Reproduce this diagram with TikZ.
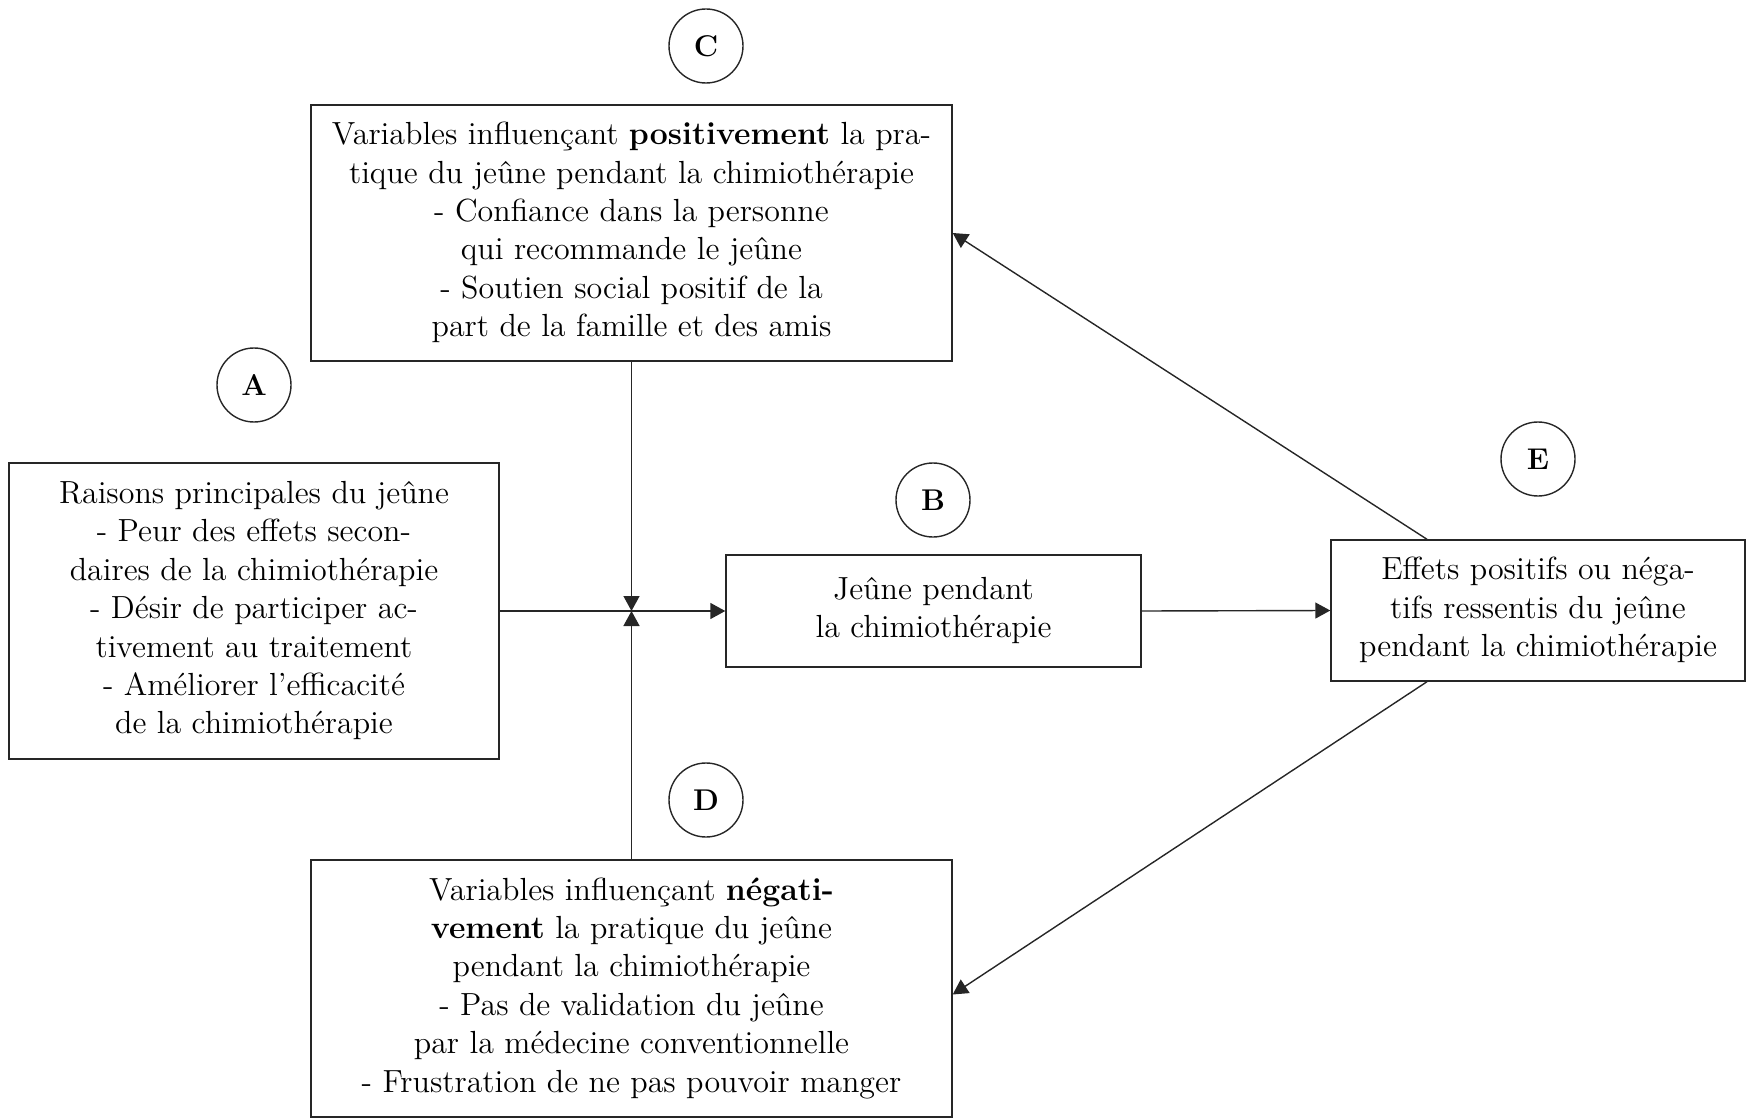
\documentclass[tikz,border=0pt]{standalone}
\usetikzlibrary{arrows.meta,calc}
\newcommand{\boxtext}[1]{\scalebox{1.3333}{\fontsize{12}{14.4}\selectfont\begin{tabular}{@{}c@{}}#1\end{tabular}}}
\begin{document}
\begin{tikzpicture}[x=0.5pt,y=-0.5pt,
  box/.style={draw=black!85,line width=0.7pt,align=center,inner sep=0pt},
  lbl/.style={draw=black!85,line width=0.7pt,circle,minimum size=37pt,inner sep=0pt,font=\fontsize{15}{18}\selectfont\bfseries},
  conn/.style={draw=black!85,line width=0.7pt,-{Triangle[length=7.5pt,width=8pt]}}]
\useasboundingbox (0,0) rectangle (1746,1118);
\node[box,minimum width=320.5pt,minimum height=128pt] (C) at (631.5,233)
 {\boxtext{Variables influençant \textbf{positivement} la pra-\\tique du jeûne pendant la chimiothérapie\\- Confiance dans la personne\\qui recommande le jeûne\\- Soutien social positif de la\\part de la famille et des amis}};
\node[box,minimum width=245pt,minimum height=148pt] (A) at (254,611)
 {\boxtext{Raisons principales du jeûne\\- Peur des effets secon-\\daires de la chimiothérapie\\- Désir de participer ac-\\tivement au traitement\\- Améliorer l’efficacité\\de la chimiothérapie}};
\node[box,minimum width=207.5pt,minimum height=56pt] (B) at (933.5,611)
 {\boxtext{Jeûne pendant\\la chimiothérapie}};
\node[box,minimum width=207pt,minimum height=70.5pt] (E) at (1538,610.5)
 {\boxtext{Effets positifs ou néga-\\tifs ressentis du jeûne\\pendant la chimiothérapie}};
\node[box,minimum width=320.5pt,minimum height=128.5pt] (D) at (631.5,988.5)
 {\boxtext{Variables influençant \textbf{négati-}\\\textbf{vement} la pratique du jeûne\\pendant la chimiothérapie\\- Pas de validation du jeûne\\par la médecine conventionnelle\\- Frustration de ne pas pouvoir manger}};
\node[lbl] (cC) at (706,46) {C};
\node[lbl] (cA) at (254,385) {A};
\node[lbl] (cB) at (933,500) {B};
\node[lbl] (cE) at (1538,459) {E};
\node[lbl] (cD) at (706,800) {D};
\coordinate (J) at (C.south |- A.east);
\draw[conn] (A.east) -- (B.west);
\draw[conn] (C.south -| J) -- (J);
\draw[conn] (D.north -| J) -- (J);
\draw[conn] (B.east) -- (E.west);
\coordinate (Et) at ([xshift=-55.5pt]E.north);
\coordinate (Eb) at ([xshift=-55.5pt]E.south);
\draw[conn] (Et) -- (C.east);
\draw[conn] (Eb) -- ([yshift=-3pt]D.east);
\end{tikzpicture}
\end{document}
